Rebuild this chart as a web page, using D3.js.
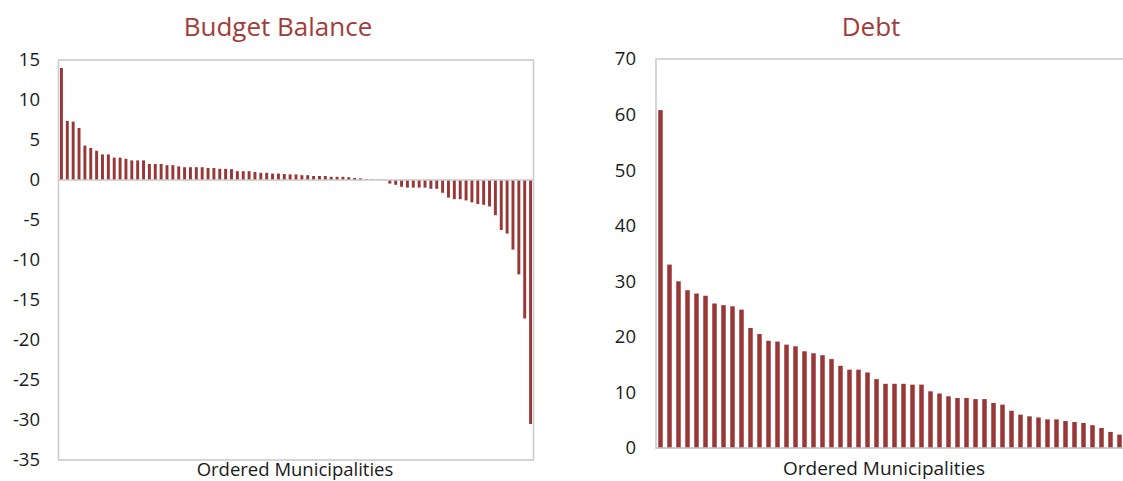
<!DOCTYPE html>
<html>
<head>
<meta charset="utf-8">
<script src="https://cdn.jsdelivr.net/npm/d3@7"></script>
<style>
  html, body { margin: 0; padding: 0; background: #fff; }
  svg { display: block; }
  text { font-family: "Open Sans", "Noto Sans", sans-serif; }
</style>
</head>
<body>
<svg id="chart" width="1123" height="481"></svg>
<script>
// ---- Data ----
const balanceTitle = "Budget Balance";
const debtTitle = "Debt";
const xAxisLabel = "Ordered Municipalities";

const balanceValues = [
  14.0, 7.4, 7.3, 6.5, 4.3, 4.0, 3.65, 3.2, 3.2, 2.8,
  2.8, 2.65, 2.45, 2.45, 2.45, 2.0, 2.0, 2.0, 1.85, 1.85,
  1.7, 1.6, 1.6, 1.6, 1.6, 1.5, 1.5, 1.4, 1.4, 1.35,
  1.1, 1.1, 1.1, 1.0, 0.9, 0.9, 0.8, 0.8, 0.75, 0.7,
  0.7, 0.6, 0.6, 0.5, 0.5, 0.5, 0.4, 0.4, 0.4, 0.35,
  0.25, 0.2, 0.1, 0.08, 0.05, 0.03, -0.45, -0.6, -0.85, -0.95,
  -0.95, -0.95, -0.95, -1.1, -1.1, -1.6, -2.2, -2.4, -2.4, -2.55,
  -2.8, -3.0, -3.1, -3.3, -4.4, -6.25, -6.7, -8.7, -11.8, -17.3,
  -30.5
];
const balanceTicks = [15, 10, 5, 0, -5, -10, -15, -20, -25, -30, -35];

const debtValues = [
  60.8, 33.0, 30.0, 28.4, 27.8, 27.4, 26.0, 25.7, 25.5, 24.9,
  21.6, 20.5, 19.3, 19.15, 18.6, 18.3, 17.4, 17.05, 16.7, 16.0,
  14.8, 14.1, 14.1, 13.6, 12.4, 11.55, 11.55, 11.55, 11.4, 11.4,
  10.2, 9.8, 9.3, 9.0, 9.0, 8.8, 8.8, 8.1, 7.8, 6.7,
  6.0, 5.7, 5.5, 5.15, 5.15, 4.85, 4.67, 4.5, 4.1, 3.6,
  2.9, 2.4
];
const debtTicks = [0, 10, 20, 30, 40, 50, 60, 70];

// ---- Styles ----
const barColor = "#993736";
const titleColor = "#a13c3c";
const frameColor = "#c9c9c9";
const textColor = "#1a1a1a";

const svg = d3.select("#chart");

function drawPanel(cfg) {
  const g = svg.append("g");
  const x = d3.scaleBand()
    .domain(d3.range(cfg.values.length))
    .range([cfg.left, cfg.right])
    .paddingInner(0.5)
    .paddingOuter(0.25);
  const y = d3.scaleLinear()
    .domain(cfg.domain)
    .range([cfg.bottom, cfg.top]);

  // frame
  g.append("rect")
    .attr("x", cfg.left).attr("y", cfg.top)
    .attr("width", cfg.right - cfg.left)
    .attr("height", cfg.bottom - cfg.top)
    .attr("fill", "none")
    .attr("stroke", frameColor)
    .attr("stroke-width", 1.5);

  // bars
  g.selectAll("rect.bar")
    .data(cfg.values)
    .join("rect")
    .attr("class", "bar")
    .attr("x", (d, i) => x(i))
    .attr("width", x.bandwidth())
    .attr("y", d => y(Math.max(0, d)))
    .attr("height", d => Math.abs(y(d) - y(0)))
    .attr("fill", barColor);

  // zero axis line
  g.append("line")
    .attr("x1", cfg.left).attr("x2", cfg.right)
    .attr("y1", y(0)).attr("y2", y(0))
    .attr("stroke", frameColor)
    .attr("stroke-width", 1.5);

  // y axis
  const axis = d3.axisLeft(y).tickValues(cfg.ticks).tickSize(0).tickPadding(0)
    .tickFormat(d => String(d));
  const ag = g.append("g")
    .attr("transform", `translate(${cfg.labelX},0)`)
    .call(axis);
  ag.select(".domain").remove();
  ag.selectAll("text")
    .attr("font-size", 18.5)
    .attr("fill", textColor)
    .style("font-family", '"Open Sans", "Noto Sans", sans-serif');

  // title
  g.append("text")
    .attr("x", cfg.titleX).attr("y", 36)
    .attr("text-anchor", "middle")
    .attr("font-size", 26)
    .attr("fill", titleColor)
    .text(cfg.title);

  // x label
  g.append("text")
    .attr("x", cfg.xLabelX).attr("y", cfg.xLabelY)
    .attr("text-anchor", "middle")
    .attr("font-size", cfg.xLabelSize)
    .attr("fill", textColor)
    .text(xAxisLabel);
}

drawPanel({
  values: balanceValues, ticks: balanceTicks, domain: [-35, 15],
  left: 58.5, right: 533.5, top: 60, bottom: 460,
  labelX: 40, title: balanceTitle, titleX: 278, xLabelX: 295, xLabelY: 476, xLabelSize: 18.5
});

drawPanel({
  values: debtValues, ticks: debtTicks, domain: [0, 70],
  left: 656, right: 1124, top: 59, bottom: 448,
  labelX: 636, title: debtTitle, titleX: 871, xLabelX: 884, xLabelY: 475, xLabelSize: 19
});
</script>
</body>
</html>
